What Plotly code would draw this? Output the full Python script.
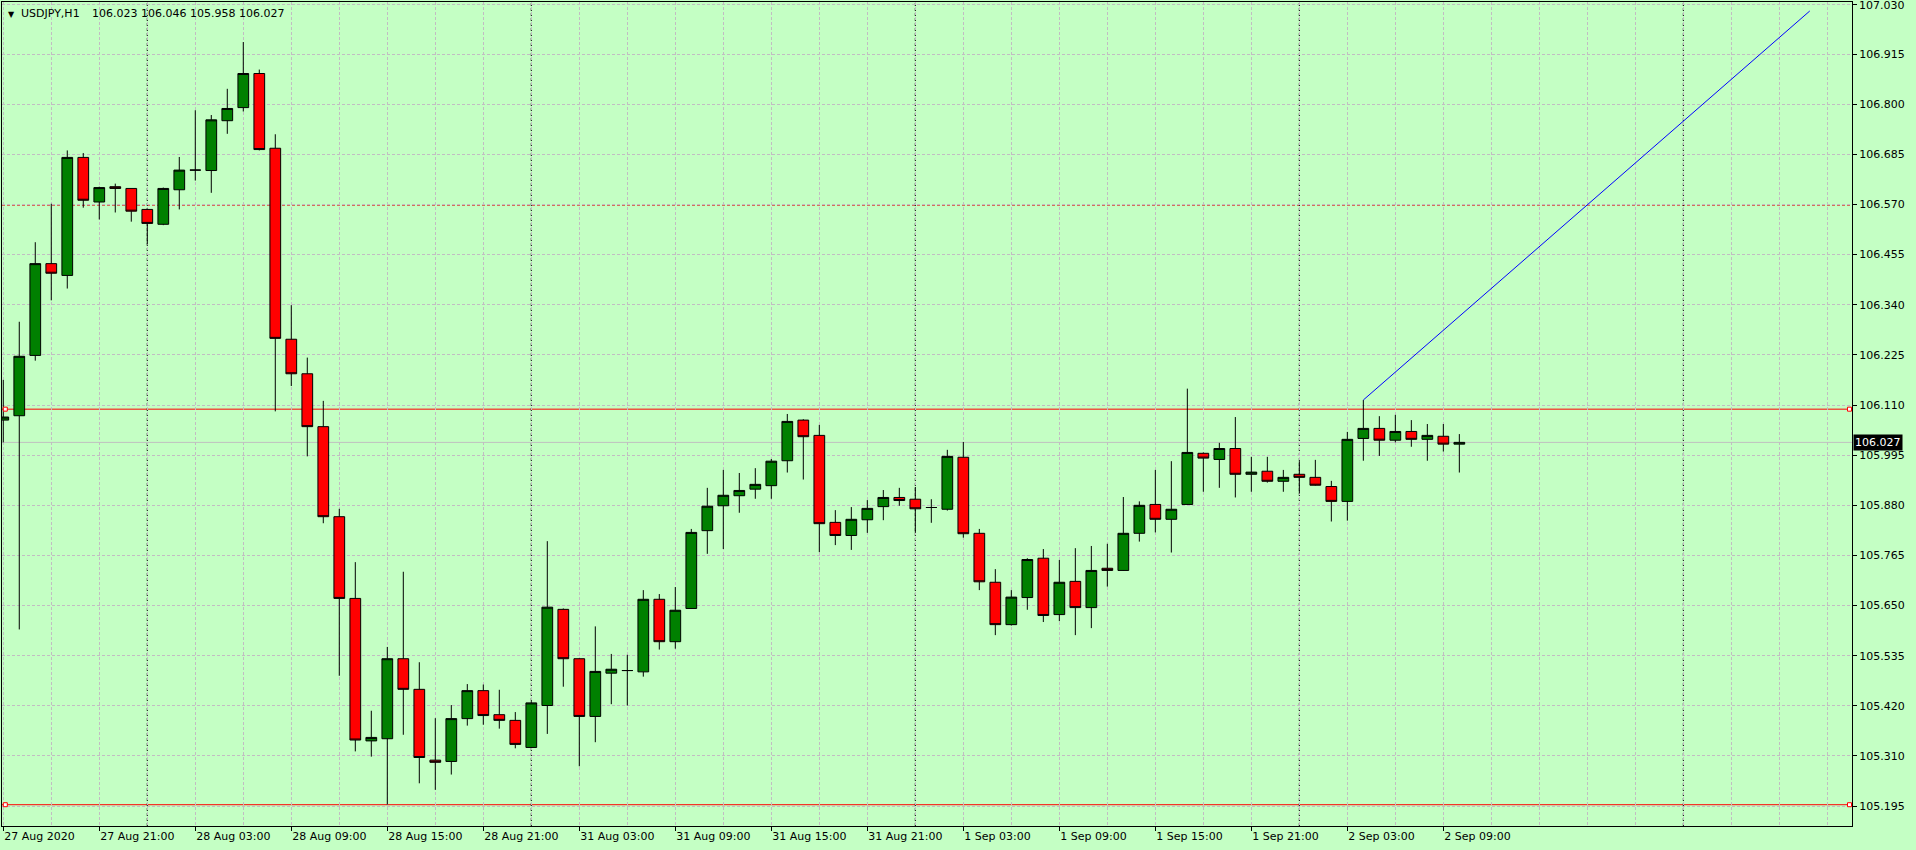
"""Rebuild the USDJPY H1 MetaTrader snapshot as a Plotly candlestick chart."""
import plotly.graph_objects as go

# Hourly bars, oldest first. Bar 0 is 27 Aug 2020 15:00 (weekend skipped).
bar_open = [
    106.078, 106.088, 106.226, 106.436, 106.409, 106.679, 106.577, 106.612, 106.608, 106.560,
    106.526, 106.605, 106.650, 106.649, 106.763, 106.793, 106.871, 106.700, 106.263, 106.184,
    106.063, 105.857, 105.670, 105.344, 105.349, 105.532, 105.462, 105.300, 105.297, 105.395,
    105.459, 105.404, 105.391, 105.329, 105.425, 105.645, 105.532, 105.400, 105.499, 105.505,
    105.502, 105.668, 105.571, 105.647, 105.825, 105.882, 105.905, 105.920, 105.928, 105.985,
    106.078, 106.043, 105.844, 105.814, 105.850, 105.880, 105.901, 105.897, 105.878, 105.874,
    105.993, 105.819, 105.707, 105.610, 105.672, 105.762, 105.633, 105.709, 105.649, 105.739,
    105.734, 105.819, 105.885, 105.851, 105.885, 106.002, 105.988, 106.013, 105.954, 105.961,
    105.938, 105.954, 105.947, 105.926, 105.892, 106.036, 106.059, 106.032, 106.052, 106.034,
    106.041, 106.023,
]
bar_high = [
    106.170, 106.303, 106.485, 106.573, 106.695, 106.689, 106.612, 106.619, 106.608, 106.562,
    106.610, 106.680, 106.787, 106.776, 106.836, 106.943, 106.880, 106.732, 106.341, 106.221,
    106.122, 105.875, 105.753, 105.413, 105.559, 105.731, 105.524, 105.396, 105.426, 105.474,
    105.473, 105.461, 105.410, 105.435, 105.801, 105.647, 105.533, 105.606, 105.543, 105.541,
    105.689, 105.680, 105.696, 105.829, 105.923, 105.964, 105.957, 105.968, 105.989, 106.092,
    106.080, 106.067, 105.872, 105.879, 105.895, 105.918, 105.923, 105.925, 105.897, 106.010,
    106.028, 105.829, 105.737, 105.689, 105.762, 105.783, 105.758, 105.785, 105.790, 105.795,
    105.902, 105.892, 105.964, 105.984, 106.150, 106.004, 106.026, 106.085, 105.994, 105.994,
    105.964, 105.984, 105.987, 105.939, 106.051, 106.124, 106.087, 106.090, 106.078, 106.069,
    106.069, 106.046,
]
bar_low = [
    106.027, 105.599, 106.214, 106.352, 106.379, 106.564, 106.537, 106.553, 106.532, 106.480,
    106.524, 106.560, 106.626, 106.598, 106.733, 106.784, 106.695, 106.098, 106.156, 105.995,
    105.842, 105.493, 105.320, 105.308, 105.198, 105.358, 105.247, 105.232, 105.267, 105.379,
    105.381, 105.372, 105.327, 105.328, 105.360, 105.468, 105.286, 105.341, 105.428, 105.425,
    105.491, 105.553, 105.555, 105.646, 105.772, 105.783, 105.866, 105.898, 105.898, 105.958,
    105.942, 105.776, 105.792, 105.781, 105.820, 105.849, 105.882, 105.820, 105.843, 105.871,
    105.809, 105.689, 105.586, 105.608, 105.644, 105.616, 105.618, 105.586, 105.602, 105.697,
    105.733, 105.800, 105.821, 105.775, 105.884, 105.914, 105.923, 105.901, 105.914, 105.935,
    105.914, 105.910, 105.928, 105.846, 105.848, 105.985, 105.996, 106.027, 106.017, 105.985,
    106.006, 105.958,
]
bar_close = [
    106.085, 106.224, 106.436, 106.414, 106.679, 106.581, 106.610, 106.608, 106.556, 106.528,
    106.608, 106.650, 106.650, 106.765, 106.791, 106.871, 106.697, 106.265, 106.184, 106.063,
    105.857, 105.670, 105.346, 105.352, 105.532, 105.462, 105.306, 105.295, 105.395, 105.459,
    105.402, 105.391, 105.336, 105.431, 105.650, 105.532, 105.400, 105.503, 105.508, 105.505,
    105.668, 105.571, 105.643, 105.821, 105.881, 105.906, 105.917, 105.931, 105.984, 106.075,
    106.040, 105.841, 105.814, 105.851, 105.876, 105.901, 105.894, 105.875, 105.878, 105.995,
    105.818, 105.708, 105.610, 105.673, 105.759, 105.631, 105.707, 105.649, 105.734, 105.734,
    105.819, 105.883, 105.851, 105.874, 106.004, 105.991, 106.013, 105.954, 105.959, 105.938,
    105.947, 105.947, 105.929, 105.892, 106.034, 106.059, 106.032, 106.052, 106.034, 106.043,
    106.023, 106.027,
]

# Time axis labels, one every 6 bars
time_tick_bars = [0, 6, 12, 18, 24, 30, 36, 42, 48, 54, 60, 66, 72, 78, 84, 90]
time_tick_labels = [
    "27 Aug 2020", "27 Aug 21:00", "28 Aug 03:00", "28 Aug 09:00", "28 Aug 15:00",
    "28 Aug 21:00", "31 Aug 03:00", "31 Aug 09:00", "31 Aug 15:00", "31 Aug 21:00",
    "1 Sep 03:00", "1 Sep 09:00", "1 Sep 15:00", "1 Sep 21:00", "2 Sep 03:00", "2 Sep 09:00",
]

# Price scale labels, top to bottom
price_tick_labels = [
    "107.030", "106.915", "106.800", "106.685", "106.570", "106.455", "106.340", "106.225",
    "106.110", "105.995", "105.880", "105.765", "105.650", "105.535", "105.420", "105.310",
    "105.195",
]

# Period separators (first bar of each day, future ones included)
day_start_bars = [9, 33, 57, 81, 105]

# Chart objects
support_level = 105.198
resistance_level = 106.103
dashed_level = 106.570
bid_price = 106.027
trend_bars = [85, 112.9]
trend_prices = [106.124, 107.014]

symbol_name = "USDJPY,H1"

BG = "#C4FFC4"
GRID = "#C2BCC2"
FONT = "DejaVu Sans"
X_RANGE = [-0.08, 115.54]
Y_RANGE = [105.1493, 107.0346]


def build_chart() -> go.Figure:
    fig = go.Figure()

    bars = list(range(len(bar_open)))

    # Candles
    fig.add_trace(go.Candlestick(
        x=bars,
        open=bar_open,
        high=bar_high,
        low=bar_low,
        close=bar_close,
        increasing=dict(fillcolor="#008000", line=dict(color="black", width=1)),
        decreasing=dict(fillcolor="#FF0000", line=dict(color="black", width=1)),
        whiskerwidth=0,
        showlegend=False,
        hoverinfo="skip",
    ))

    # Trend line
    fig.add_trace(go.Scatter(
        x=trend_bars,
        y=trend_prices,
        mode="lines",
        line=dict(color="#0000FF", width=1),
        showlegend=False,
        hoverinfo="skip",
    ))

    # Horizontal lines: bid, dashed level, two solid levels
    fig.add_hline(y=bid_price, line_color="#C0C0C0", line_width=1, layer="below")
    fig.add_hline(y=dashed_level, line_color="#E00000", line_width=1,
                  line_dash="3px,2px", layer="below")
    for level in (resistance_level, support_level):
        fig.add_hline(y=level, line_color="#FF0000", line_width=1, layer="below")

    # Anchor squares at both ends of the solid levels
    span = X_RANGE[1] - X_RANGE[0]
    x_left = X_RANGE[0] + span * 3.3 / 1850
    x_right = X_RANGE[1] - span * 2.5 / 1850
    fig.add_trace(go.Scatter(
        x=[x_left, x_right, x_left, x_right],
        y=[resistance_level, resistance_level, support_level, support_level],
        mode="markers",
        marker=dict(symbol="square", size=4, color="white",
                    line=dict(color="#FF0000", width=1)),
        showlegend=False,
        hoverinfo="skip",
        cliponaxis=False,
    ))

    # Day separators
    for b in day_start_bars:
        fig.add_vline(x=b, line_color="black", line_width=1,
                      line_dash="3px,2px", layer="below")

    top, bottom = 107.030, 105.195
    step = (top - bottom) / (len(price_tick_labels) - 1)
    price_tick_vals = [top - i * step for i in range(len(price_tick_labels))]

    # The top label sits against the page edge; draw it separately, nudged down a pixel
    axis_text = [""] + price_tick_labels[1:]

    fig.update_layout(
        width=1916,
        height=850,
        margin=dict(l=2, r=64, t=2, b=24, pad=0),
        paper_bgcolor=BG,
        plot_bgcolor=BG,
        font=dict(family=FONT, size=11, color="black"),
        boxgap=0.33,
        boxgroupgap=0,
        showlegend=False,
        xaxis=dict(
            range=X_RANGE,
            automargin=False,
            rangeslider=dict(visible=False),
            showline=True, mirror=True, linecolor="black", linewidth=1,
            tickmode="array",
            tickvals=time_tick_bars,
            ticktext=time_tick_labels,
            ticks="outside", ticklen=4, tickcolor="black",
            ticklabelposition="outside right",
            ticklabeloverflow="allow",
            showgrid=True, gridcolor=GRID, griddash="3px,2px", gridwidth=1,
            minor=dict(dtick=3, tick0=0, showgrid=True, gridcolor=GRID,
                       griddash="3px,2px", gridwidth=1, ticks=""),
            zeroline=False,
            fixedrange=True,
        ),
        yaxis=dict(
            side="right",
            range=Y_RANGE,
            automargin=False,
            showline=True, mirror=True, linecolor="black", linewidth=1,
            tickmode="array",
            tickvals=price_tick_vals,
            ticktext=axis_text,
            ticks="outside", ticklen=4, tickcolor="black",
            ticklabeloverflow="allow",
            showgrid=True, gridcolor=GRID, griddash="3px,2px", gridwidth=1,
            zeroline=False,
            fixedrange=True,
        ),
    )

    fig.add_annotation(
        xref="paper", yref="y", x=1, y=price_tick_vals[0], xanchor="left",
        yanchor="top", xshift=6, yshift=6, showarrow=False,
        text=price_tick_labels[0], font=dict(family=FONT, size=11, color="black"),
        borderpad=0,
    )

    # Symbol header, top left
    fig.add_annotation(
        xref="paper", yref="paper", x=0, y=1, xanchor="left", yanchor="top",
        xshift=4, yshift=-6, text="\u25BC", showarrow=False,
        font=dict(family=FONT, size=8, color="black"),
    )
    fig.add_annotation(
        xref="paper", yref="paper", x=0, y=1, xanchor="left", yanchor="top",
        xshift=17, yshift=-3, showarrow=False,
        text=symbol_name, font=dict(family=FONT, size=11, color="black"),
    )
    ohlc_text = " ".join(f"{v:.3f}" for v in
                         (bar_open[-1], bar_high[-1], bar_low[-1], bar_close[-1]))
    fig.add_annotation(
        xref="paper", yref="paper", x=0, y=1, xanchor="left", yanchor="top",
        xshift=88, yshift=-3, showarrow=False,
        text=ohlc_text, font=dict(family=FONT, size=11, color="black"),
    )

    # Current price box on the price scale
    fig.add_annotation(
        xref="paper", yref="y", x=1, y=bid_price, xanchor="left", yanchor="middle",
        xshift=1, showarrow=False, text=f"{bid_price:.3f}",
        bgcolor="black", borderpad=1,
        font=dict(family=FONT, size=11, color="white"),
    )

    return fig


fig = build_chart()
fig.write_html(
    "out.html",
    config={"displayModeBar": False},
    post_script="document.body.style.margin='0px';",
)
